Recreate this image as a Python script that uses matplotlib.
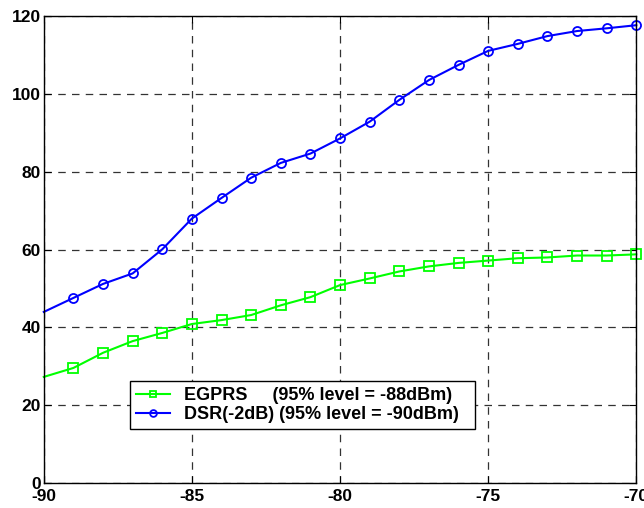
import numpy as np
import matplotlib
matplotlib.use("Agg")
import matplotlib.pyplot as plt

plt.rcParams['font.family'] = ['Liberation Sans', 'DejaVu Sans']
plt.rcParams['font.weight'] = 'bold'
plt.rcParams['axes.unicode_minus'] = False

# received level (dBm)
x = [-90, -89, -88, -87, -86, -85, -84, -83, -82, -81, -80,
     -79, -78, -77, -76, -75, -74, -73, -72, -71, -70]
egprs = [27.3, 29.6, 33.5, 36.5, 38.6, 40.9, 41.9, 43.2, 45.7, 47.8, 50.9,
         52.6, 54.4, 55.7, 56.6, 57.2, 57.8, 58.0, 58.5, 58.5, 58.8]
dsr = [44.0, 47.6, 51.2, 53.9, 60.1, 68.0, 73.3, 78.5, 82.3, 84.7, 88.6,
       92.9, 98.5, 103.6, 107.5, 111.1, 112.9, 114.9, 116.2, 116.9, 117.7]
labels = ["EGPRS     (95% level = -88dBm)  ",
          "DSR(-2dB) (95% level = -90dBm)  "]

fig = plt.figure(figsize=(6.44, 5.08), dpi=100)
ax = fig.add_axes([0.068, 0.049, 0.920, 0.919])

marks = list(range(1, len(x)))
ax.plot(x, egprs, color=(0, 1, 0), lw=1.5, marker='s', ms=6.5, mfc='none',
        mew=1.3, markevery=marks, label=labels[0], clip_on=False)
ax.plot(x, dsr, color=(0, 0, 1), lw=1.5, marker='o', ms=6.5, mfc='none',
        mew=1.3, markevery=marks, label=labels[1], clip_on=False)

ax.set_xlim(-90, -70)
ax.set_ylim(0, 120)
ax.set_xticks(np.arange(-90, -69, 5))
ax.set_yticks(np.arange(0, 121, 20))
ax.grid(True, color='#333333', linestyle=(0, (6, 5)), linewidth=0.9)
ax.tick_params(direction='in', top=True, right=True, length=5, labelsize=12.5)
ax.tick_params(axis='x', pad=4)
ax.tick_params(axis='y', pad=2)
for lab in ax.get_xticklabels() + ax.get_yticklabels():
    lab.set_fontweight('bold')
for s in ax.spines.values():
    s.set_linewidth(1.0)

leg = ax.legend(loc='lower left', bbox_to_anchor=(0.13, 0.097), fontsize=13,
                frameon=True, fancybox=False, edgecolor='black', framealpha=1,
                handlelength=1.9, borderpad=0.32, labelspacing=0.1,
                handletextpad=0.8, markerscale=0.75)
leg.get_frame().set_linewidth(1.0)

fig.savefig("out.png", dpi=100)
